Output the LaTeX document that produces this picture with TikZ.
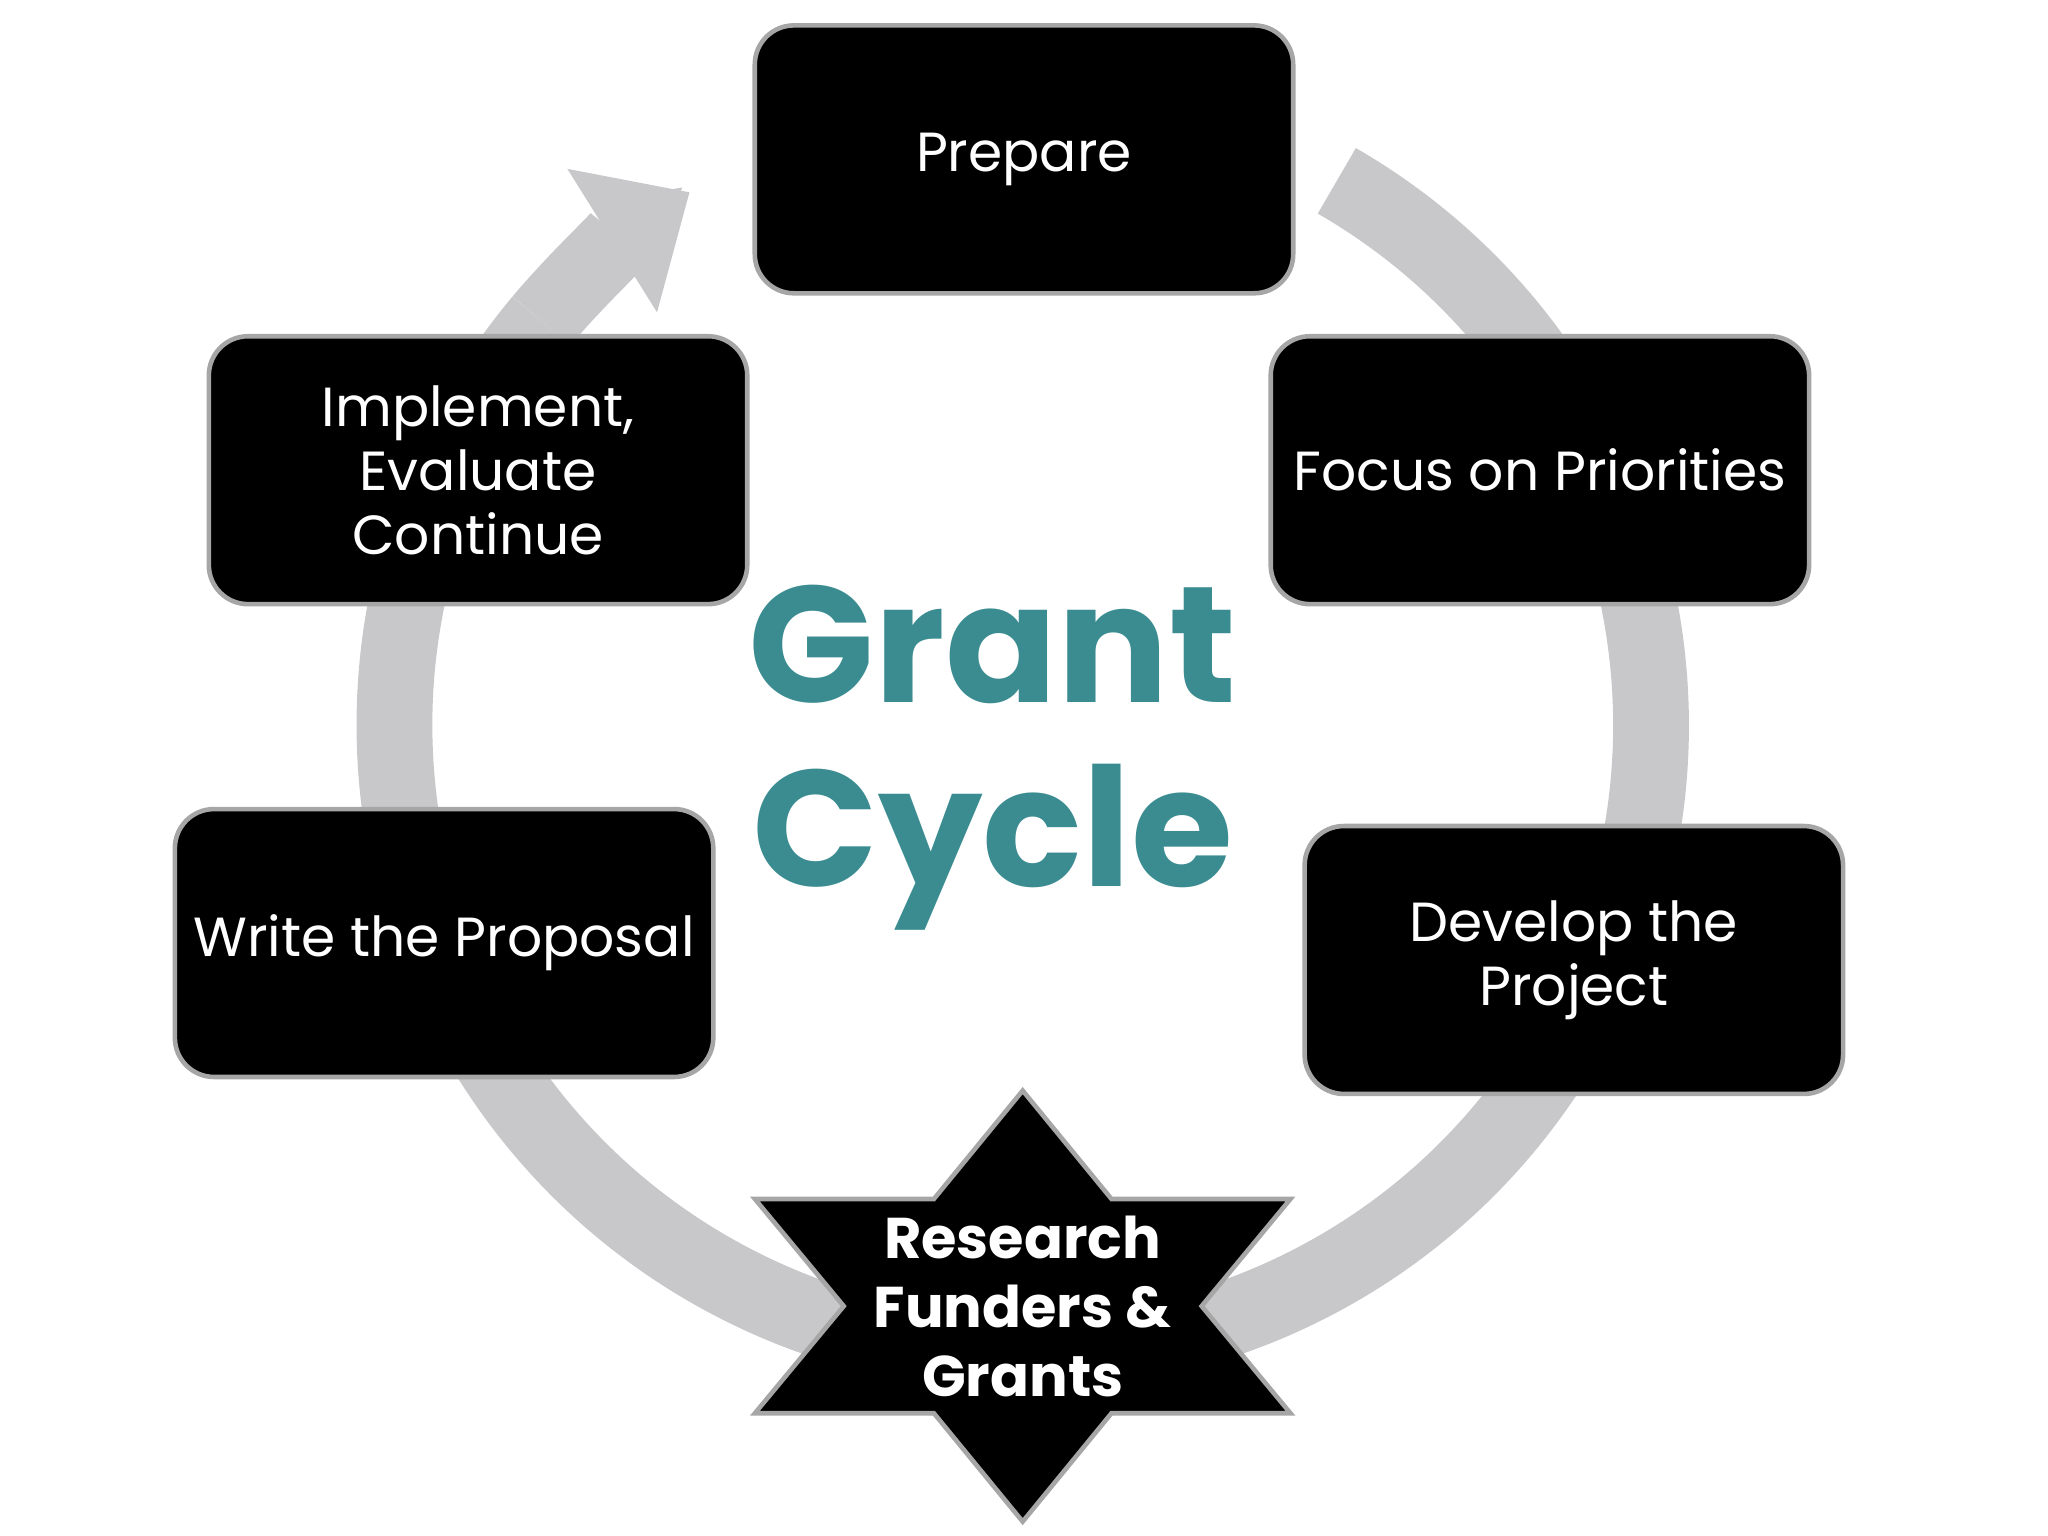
\documentclass[tikz,border=0pt]{standalone}
\usepackage{fontspec}
\setmainfont{Poppins}
\usetikzlibrary{arrows.meta,calc}
\definecolor{teal1}{RGB}{58,140,145}
\definecolor{ringgray}{RGB}{200,200,202}
\tikzset{
 stepbox/.style={fill=black,draw=gray!70,line width=1pt,rounded corners=0.3cm,minimum width=4.12cm,minimum height=2.05cm,text=white,align=center,font=\fontsize{12}{14}\selectfont,inner sep=2pt},
 ring/.style={draw=ringgray,line width=0.58cm}
}
\begin{document}
\begin{tikzpicture}[x=0.01cm,y=-0.01cm]
\useasboundingbox (0,0) rectangle (1568,1176);
\coordinate (c) at (783,555);
\draw[ring] ($(c)+(-60:481)$) arc[start angle=-60,end angle=220,radius=481];
\draw[ring,-{Triangle[width=1.25cm,length=0.7cm]}] ($(c)+(220:481)$) arc[start angle=220,end angle=238,radius=481];
\node[stepbox] (prep) at (784,122) {Prepare};
\node[stepbox] (impl) at (366,360) {Implement,\\Evaluate\\Continue};
\node[stepbox] (focus) at (1179,360) {Focus on Priorities};
\node[stepbox] (write) at (340,722) {Write the Proposal};
\node[stepbox] (dev) at (1205,735) {Develop the\\Project};
\draw[fill=black,draw=gray!70,line width=1pt] (783,835) -- (851,918) -- (988,918) -- (920,1000) -- (988,1082) -- (851,1082) -- (783,1165) -- (715,1082) -- (578,1082) -- (646,1000) -- (578,918) -- (715,918) -- cycle;
\node[text=white,align=center,font=\bfseries\fontsize{12.5}{15}\selectfont] (star) at (783,1000) {Research\\Funders \&\\Grants};
\node[text=teal1,align=center,font=\bfseries\fontsize{36}{40}\selectfont] (title) at (760,580) {Grant\\Cycle};
\end{tikzpicture}
\end{document}
